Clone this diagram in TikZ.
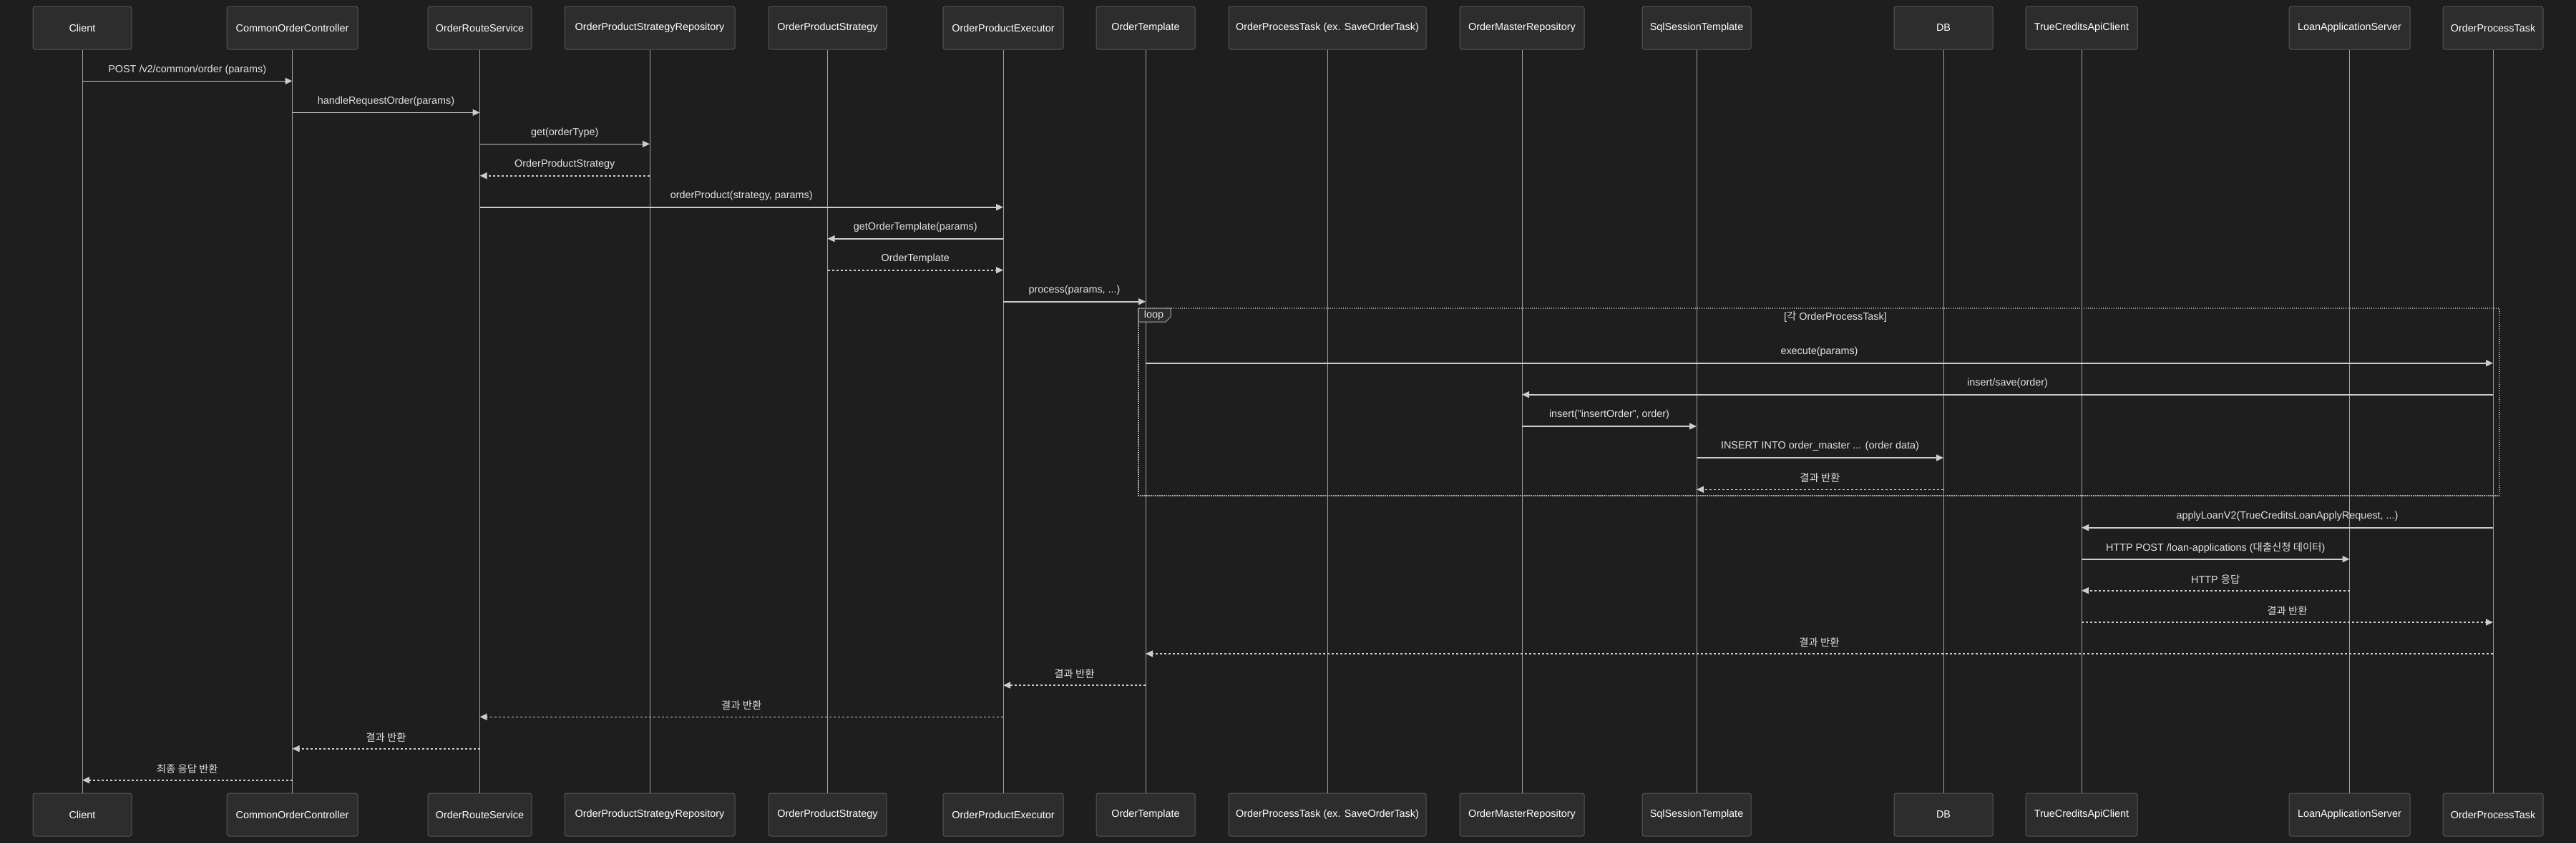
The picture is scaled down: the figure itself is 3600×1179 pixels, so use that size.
\documentclass[tikz,border=0pt]{standalone}
\usepackage{fontspec}
\setmainfont{Liberation Sans}
\newfontfamily\kr{Noto Sans CJK KR}
\usepackage{tikz}
\usetikzlibrary{positioning,arrows.meta}

\definecolor{bgdark}{HTML}{1E1E1E}
\definecolor{boxfill}{HTML}{2D2D2D}
\definecolor{boxline}{HTML}{555555}
\definecolor{txtlight}{HTML}{E2E2E2}
\definecolor{msgline}{HTML}{CCCCCC}
\definecolor{lifegray}{HTML}{A0A0A0}
\definecolor{loopgray}{HTML}{AAAAAA}

\tikzset{
  actor/.style={draw=boxline, fill=boxfill, rounded corners=3pt, line width=1pt,
    minimum height=60pt, inner sep=0pt, text=white, font=\fontsize{14.4}{16}\selectfont},
  life/.style={draw=lifegray, line width=1pt},
  call/.style={draw=msgline, line width=1.6pt, -{Triangle[length=10pt,width=9pt]}},
  reply/.style={call, dash pattern=on 3pt off 3pt},
  msglabel/.style={text=txtlight, inner sep=0pt, font=\fontsize{14.4}{16}\selectfont},
  loopbox/.style={draw=loopgray, line width=1.5pt, dash pattern=on 1.5pt off 1.5pt},
}

\begin{document}
\begin{tikzpicture}[x=1pt, y=-1pt]
  %----- 背景 -----
  \fill[bgdark, use as bounding box] (0,0) rectangle (3600,1179);

  %----- 參與者 (name / x / width / text) -----
  \foreach \id/\xc/\w/\txt in {
      cli/115/138/Client,
      coc/408.5/183/CommonOrderController,
      ors/670.5/145/OrderRouteService,
      opsr/908/238/OrderProductStrategyRepository,
      ops/1156.5/165/OrderProductStrategy,
      ope/1402/168/OrderProductExecutor,
      ot/1601/138/OrderTemplate,
      optx/1855/276/OrderProcessTask (ex. SaveOrderTask),
      omr/2127/174/OrderMasterRepository,
      sst/2371/152/SqlSessionTemplate,
      db/2716/138/DB,
      tcac/2909/156/TrueCreditsApiClient,
      las/3283.5/169/LoanApplicationServer,
      opt/3484/140/OrderProcessTask}{
    \node[actor, minimum width=\w pt] (\id) at (\xc,39) {\txt};
    \node[actor, minimum width=\w pt] (\id-b) at (\xc,1139) {\txt};
    \draw[life] (\id.south) -- (\id-b.north);
  }

  %----- loop 區塊 -----
  \draw[loopbox] (1591,431) rectangle (3493,693);
  \draw[draw=loopgray, fill=boxfill, line width=1pt]
    (1591,431) -- (1636,431) -- (1636,443) -- (1629,450) -- (1591,450) -- cycle;
  \node[msglabel] (looptag) at (1612.5,440.5) {loop};
  \node[msglabel] (loophead) at (2565,443) {[{\kr 각} OrderProcessTask]};

  %----- 訊息 (from, to, y, style, label) -----
  \def\msg#1#2#3#4#5{
    \draw[#4] (#1 |- 0,#3) -- node[msglabel, yshift=16pt] {#5} (#2 |- 0,#3);
  }
  \msg{cli}{coc}{113.3}{call}{POST /v2/common/order (params)}
  \msg{coc}{ors}{157.3}{call}{handleRequestOrder(params)}
  \msg{ors}{opsr}{201.3}{call}{get(orderType)}
  \msg{opsr}{ors}{245.7}{reply}{OrderProductStrategy}
  \msg{ors}{ope}{289.7}{call}{orderProduct(strategy, params)}
  \msg{ope}{ops}{333.7}{call}{getOrderTemplate(params)}
  \msg{ops}{ope}{377.7}{reply}{OrderTemplate}
  \msg{ope}{ot}{421.7}{call}{process(params, ...)}
  % loop 內
  \msg{ot}{opt}{507.7}{call}{execute(params)}
  \msg{opt}{omr}{551.7}{call}{insert/save(order)}
  \msg{omr}{sst}{596}{call}{insert("insertOrder", order)}
  \msg{sst}{db}{640}{call}{INSERT INTO order\_master ... (order data)}
  \msg{db}{sst}{684.3}{reply}{\kr 결과 반환}
  % loop 後
  \msg{opt}{tcac}{737.7}{call}{applyLoanV2(TrueCreditsLoanApplyRequest, ...)}
  \msg{tcac}{las}{781.7}{call}{HTTP POST /loan-applications ({\kr 대출신청 데이터})}
  \msg{las}{tcac}{825.7}{reply}{HTTP {\kr 응답}}
  \msg{tcac}{opt}{870}{reply}{\kr 결과 반환}
  \msg{opt}{ot}{914}{reply}{\kr 결과 반환}
  \msg{ot}{ope}{958}{reply}{\kr 결과 반환}
  \msg{ope}{ors}{1002.3}{reply}{\kr 결과 반환}
  \msg{ors}{coc}{1046.7}{reply}{\kr 결과 반환}
  \msg{coc}{cli}{1090.7}{reply}{\kr 최종 응답 반환}
\end{tikzpicture}
\end{document}
